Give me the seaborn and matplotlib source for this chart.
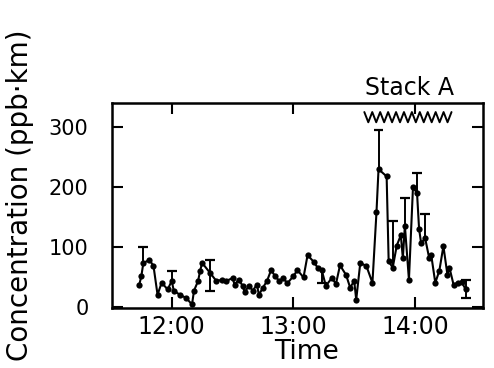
import numpy as np
import pandas as pd
import matplotlib
matplotlib.use("Agg")
import matplotlib.pyplot as plt
import seaborn as sns

# ---- data ----
times = ["11:44", "11:45", "11:46", "11:49", "11:51", "11:53", "11:55", "11:58",
         "12:00", "12:01", "12:04", "12:07", "12:10", "12:11", "12:13", "12:14",
         "12:15", "12:19", "12:22", "12:25", "12:27", "12:30", "12:31", "12:33",
         "12:35", "12:36", "12:38", "12:40", "12:42", "12:43", "12:45", "12:47",
         "12:49", "12:51", "12:53", "12:55", "12:57", "13:00", "13:02", "13:05",
         "13:07", "13:10", "13:12", "13:14", "13:16", "13:19", "13:21", "13:23",
         "13:26", "13:28", "13:30", "13:31", "13:33", "13:36", "13:39", "13:41",
         "13:42", "13:46", "13:47", "13:49", "13:51", "13:53", "13:54", "13:55",
         "13:57", "13:59", "14:01", "14:02", "14:03", "14:05", "14:07", "14:08",
         "14:10", "14:12", "14:14", "14:16", "14:17", "14:19", "14:21", "14:23",
         "14:25"]
conc = [38, 52, 74, 79, 69, 21, 41, 30,
        44, 28, 21, 16, 5, 28, 44, 61,
        74, 57, 44, 46, 44, 49, 38, 46,
        36, 25, 36, 28, 38, 21, 33, 44,
        62, 52, 44, 49, 40, 52, 62, 50,
        87, 76, 66, 62, 36, 49, 39, 70,
        54, 33, 44, 13, 74, 69, 41, 159,
        230, 218, 77, 66, 103, 120, 82, 136,
        46, 200, 190, 131, 107, 115, 82, 87,
        41, 61, 102, 54, 66, 38, 41, 42,
        30]

# error bars: time, upper end, lower end (nan = none)
err_times = ["11:46", "12:00", "12:19", "13:14", "13:42", "13:49", "13:55", "14:01", "14:05", "14:25"]
err_upper = [101, 60, 79, np.nan, 295, 143, 182, 224, 156, 45]
err_lower = [np.nan, np.nan, 28, 40, np.nan, np.nan, np.nan, np.nan, np.nan, 15]

stack_label = "Stack A"
stack_start, stack_end = "13:35", "14:18"
x_tick_labels = ["12:00", "13:00", "14:00"]
y_ticks = [0, 100, 200, 300]


def to_h(s):
    h, m = s.split(":")
    return int(h) + int(m) / 60.0


sns.set_style("ticks")
plt.rcParams["font.family"] = ["DejaVu Sans"]
plt.rcParams["text.color"] = "black"
plt.rcParams["xtick.color"] = "black"
plt.rcParams["ytick.color"] = "black"
plt.rcParams["xtick.labelcolor"] = "black"
plt.rcParams["ytick.labelcolor"] = "black"

fig = plt.figure(figsize=(4.94, 3.68), dpi=100)
ax = fig.add_axes([0.227, 0.163, 0.751, 0.557])

df = pd.DataFrame({"t": [to_h(s) for s in times], "c": conc})
sns.lineplot(data=df, x="t", y="c", ax=ax, color="black", lw=1.5,
             marker="o", markersize=4.5, markeredgewidth=0,
             markerfacecolor="black", zorder=3)

# error bars
cap = 2.4 / 60.0
for t, c, up, lo in zip(err_times, [conc[times.index(t)] for t in err_times], err_upper, err_lower):
    x = to_h(t)
    top = up if not np.isnan(up) else c
    bot = lo if not np.isnan(lo) else c
    ax.vlines(x, bot, top, color="black", lw=1.4, zorder=2)
    if not np.isnan(up):
        ax.hlines(up, x - cap, x + cap, color="black", lw=1.6, zorder=2)
    if not np.isnan(lo):
        ax.hlines(lo, x - cap, x + cap, color="black", lw=1.6, zorder=2)

# stack emission marker (zigzag) and label
x0, x1 = to_h(stack_start), to_h(stack_end)
nz = 11
zx = np.linspace(x0, x1, 2 * nz + 1)
zy = np.where(np.arange(2 * nz + 1) % 2 == 0, 325, 308)
ax.plot(zx, zy, color="black", lw=1.4, clip_on=False)
ax.text((x0 + x1) / 2 + 0.01, 1.073, stack_label, transform=ax.get_xaxis_transform(),
        ha="center", va="center", fontsize=17, color="black")

ax.set_xlim(11.51, 14.56)
ax.set_ylim(-1, 340)
ax.set_xticks([to_h(s) for s in x_tick_labels])
ax.set_xticklabels(x_tick_labels, fontsize=17)
ax.set_yticks(y_ticks)
ax.set_yticklabels([str(v) for v in y_ticks], fontsize=15)
ax.tick_params(axis="both", direction="in", top=True, right=True,
               length=8, width=1.5, color="black", labelcolor="black")
ax.tick_params(axis="y", pad=17)
ax.tick_params(axis="x", pad=5)
ax.set_xlabel("")
ax.set_ylabel("")
for s in ax.spines.values():
    s.set_linewidth(1.8)
    s.set_color("black")

fig.text(306 / 494, 1 - 352 / 368, "Time", ha="center", va="center", fontsize=19, color="black")
fig.text(20 / 494, 1 - 195 / 368, "Concentration (ppb·km)", rotation=90,
         ha="center", va="center", fontsize=20, color="black")

fig.savefig("out.png", dpi=100)
